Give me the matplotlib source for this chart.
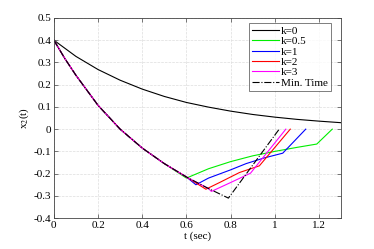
import numpy as np
import matplotlib.pyplot as plt

plt.rcParams['font.family'] = ['Liberation Serif', 'DejaVu Serif']
plt.rcParams['mathtext.fontset'] = 'stix'

# common descending part
t_desc = [0.0, 0.05, 0.1, 0.2, 0.3, 0.4, 0.5, 0.6, 0.7, 0.8]
x_desc = [0.40, 0.317, 0.242, 0.107, 0.0, -0.085, -0.155, -0.215, -0.267, -0.31]

# k = 0
t_k0 = [0.0, 0.1, 0.2, 0.3, 0.4, 0.5, 0.6, 0.7, 0.8, 0.9, 1.0, 1.1, 1.2, 1.3]
x_k0 = [0.400, 0.327, 0.268, 0.220, 0.180, 0.147, 0.120, 0.099, 0.081, 0.066, 0.054, 0.044, 0.036, 0.029]

# branches after leaving the descending curve
t_k05 = [0.6, 0.7, 0.8, 0.9, 1.0, 1.1, 1.19, 1.26]
x_k05 = [-0.22, -0.178, -0.146, -0.12, -0.10, -0.082, -0.067, 0.0]
t_k1 = [0.643, 0.7, 0.8, 0.87, 0.95, 1.036, 1.14]
x_k1 = [-0.25, -0.22, -0.183, -0.155, -0.13, -0.108, 0.0]
t_k2 = [0.688, 0.75, 0.84, 0.93, 1.07]
x_k2 = [-0.27, -0.24, -0.195, -0.165, 0.0]
t_k3 = [0.713, 0.8, 0.89, 1.05]
x_k3 = [-0.28, -0.24, -0.198, 0.0]
t_min = [0.79, 1.02]
x_min = [-0.31, 0.0]

def joined(tb, xb):
    t = [v for v in t_desc if v < tb[0]] + tb
    x = [x_desc[i] for i, v in enumerate(t_desc) if v < tb[0]] + xb
    return t, x

fig = plt.figure(figsize=(3.74, 2.49), dpi=100)
ax = fig.add_axes([0.144, 0.124, 0.768, 0.804])

ax.plot(t_k0, x_k0, color='black', lw=0.8, label='k=0')
ax.plot(*joined(t_k05, x_k05), color='#00ee00', lw=0.8, label='k=0.5')
ax.plot(*joined(t_k1, x_k1), color='#0000ff', lw=0.8, label='k=1')
ax.plot(*joined(t_k2, x_k2), color='#ff0000', lw=0.8, label='k=2')
ax.plot(*joined(t_k3, x_k3), color='#ff00ff', lw=0.8, label='k=3')
ax.plot(*joined(t_min, x_min), color='black', lw=0.8, ls='-.', label='Min. Time')

ax.set_xlim(0, 1.3)
ax.set_ylim(-0.4, 0.5)
ax.set_xticks([0, 0.2, 0.4, 0.6, 0.8, 1, 1.2])
ax.set_xticklabels(['0', '0.2', '0.4', '0.6', '0.8', '1', '1.2'])
ax.set_yticks(np.arange(-0.4, 0.51, 0.1))
ax.set_yticklabels(['-0.4', '-0.3', '-0.2', '-0.1', '0', '0.1', '0.2', '0.3', '0.4', '0.5'])
ax.tick_params(direction='in', length=3, width=0.5, labelsize=8, top=True, right=True,
               color='#444444', pad=2)
for s in ax.spines.values():
    s.set_linewidth(0.6)
    s.set_color('#444444')
ax.grid(True, ls='--', color='#dddddd', lw=0.5)

ax.set_xlabel('t (sec)', fontsize=8, labelpad=1)
ax.set_ylabel(r'x$_2$(t)', fontsize=8, labelpad=2)

leg = ax.legend(loc='upper right', bbox_to_anchor=(0.965, 0.975), fontsize=8,
                frameon=True, fancybox=False, edgecolor='#444444', handlelength=2.4,
                handletextpad=0.2, labelspacing=0.05, borderpad=0.3, borderaxespad=0)
leg.get_frame().set_linewidth(0.6)

fig.savefig('out.png', dpi=100)
